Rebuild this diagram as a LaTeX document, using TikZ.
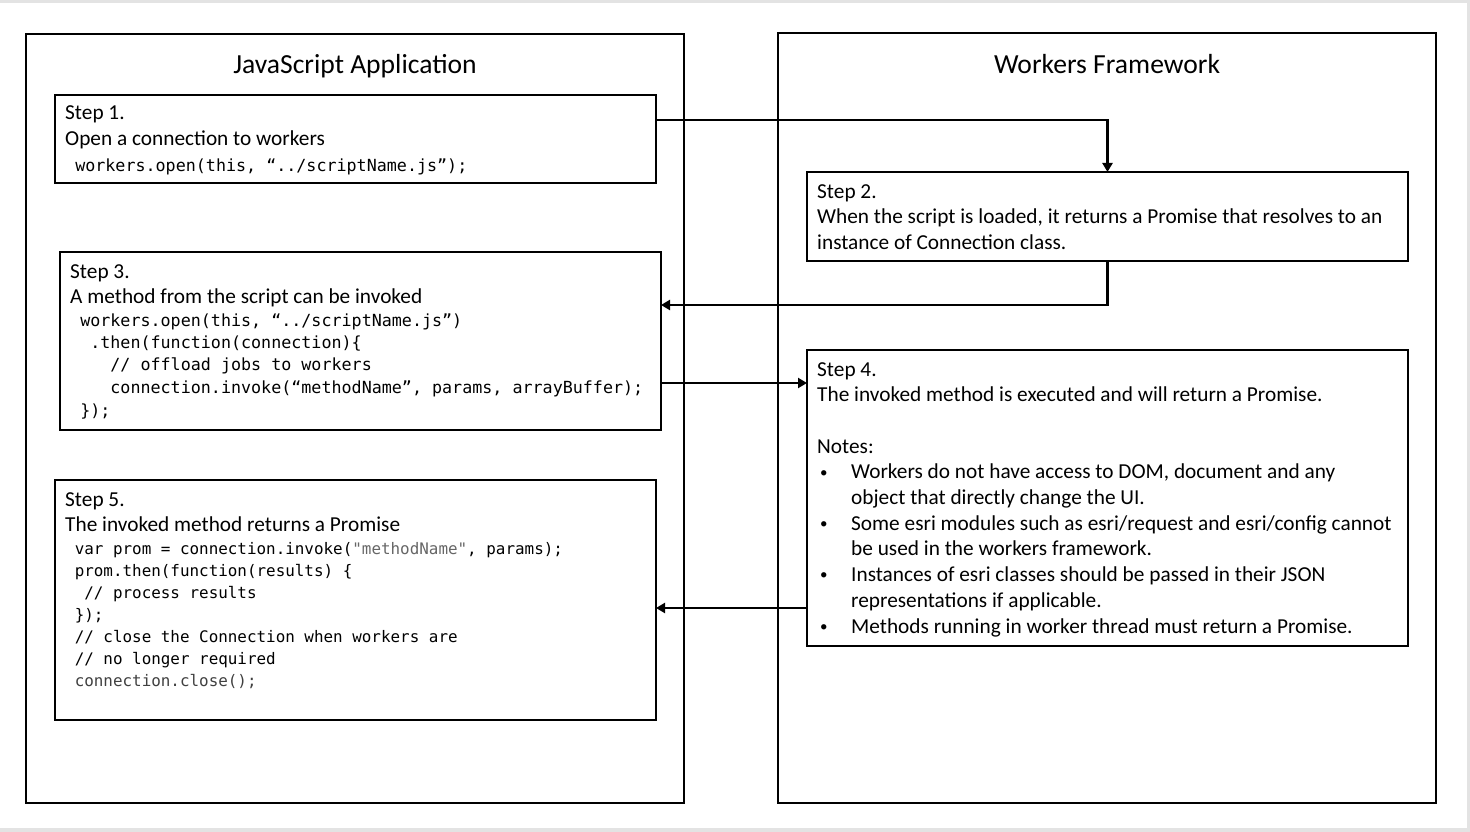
\documentclass[tikz,border=0pt]{standalone}
\usepackage{fontspec}
\setmainfont{Carlito}
\setmonofont{DejaVu Sans Mono}
\usetikzlibrary{positioning,arrows.meta,calc}
\newcommand{\ind}[1]{\hspace*{#1\fontcharwd\font`x}}
\newcommand{\natsp}{\spaceskip=0pt\xspaceskip=0pt\frenchspacing}
\newcommand{\blt}{\makebox[34pt][l]{\hspace{3pt}\raisebox{1.8pt}{\fontsize{15}{15}\selectfont •}}}

\begin{document}
\begin{tikzpicture}[x=1pt,y=-1pt,
    frame/.style={draw,line width=2.6pt,anchor=north west,inner sep=0,outer sep=0},
    stepbox/.style={draw,line width=1.3pt,anchor=north west,inner sep=0,outer sep=0},
    title/.style={anchor=base,inner sep=0,font=\fontsize{27.6}{32}\selectfont},
    prose/.style={anchor=base west,inner sep=0,text width=640pt,align=left,
        font=\fontsize{21.3}{25.7}\selectfont,execute at begin node=\natsp},
    code/.style={anchor=base west,inner sep=0,text width=640pt,align=left,
        font=\ttfamily\fontsize{16.7}{22.2}\selectfont,execute at begin node=\natsp},
    conn/.style={line width=2.6pt,-{Triangle[width=10pt,length=9pt]}}]
    \useasboundingbox (0,0) rectangle (1470,832);
    % screenshot edge
    \fill[gray!22] (0,0) rectangle (1470,3);
    \fill[gray!22] (1467,0) rectangle (1470,832);
    \fill[gray!22] (0,828) rectangle (1470,832);

    % === JAVASCRIPT APPLICATION ===
    \node[frame,minimum width=658pt,minimum height=769pt] (app) at (26,34) {};
    \node[title] (tapp) at (355,74) {JavaScript Application};

    \node[stepbox,minimum width=601pt,minimum height=88pt] (s1) at (55,95) {};
    \node[prose] (s1t) at (65,120) {Step 1.\\Open a connection to workers};
    \node[code] (s1c) at (65,171.5) {\ind{1}workers.open(this, “../scriptName.js”);};

    \node[stepbox,minimum width=601pt,minimum height=178pt] (s3) at (60,252) {};
    \node[prose] (s3t) at (70,278) {Step 3.\\A method from the script can be invoked};
    \node[code] (s3c) at (70,326) {\ind{1}workers.open(this, “../scriptName.js”)\\
        \ind{2}.then(function(connection)\{\\
        \ind{4}// offload jobs to workers\\[0.6pt]
        \ind{4}connection.invoke(“methodName”, params, arrayBuffer);\\[0.6pt]
        \ind{1}\});};

    \node[stepbox,minimum width=601pt,minimum height=240pt] (s5) at (55,480) {};
    \node[prose] (s5t) at (65,506) {Step 5.\\The invoked method returns a Promise};
    \node[code,font=\ttfamily\fontsize{15.9}{22}\selectfont] (s5c) at (65,554) {\ind{1}var prom = connection.invoke(\textcolor{black!60}{"methodName"}, params);\\
        \ind{1}prom.then(function(results) \{\\
        \ind{2}// process results\\
        \ind{1}\});\\
        \ind{1}// close the Connection when workers are\\
        \ind{1}// no longer required\\
        \ind{1}\textcolor{black!75}{connection.close();}};

    % === WORKERS FRAMEWORK ===
    \node[frame,minimum width=658pt,minimum height=770pt] (fw) at (778,33) {};
    \node[title] (tfw) at (1107,74) {Workers Framework};

    \node[stepbox,minimum width=601pt,minimum height=89pt] (s2) at (807,172) {};
    \node[prose] (s2t) at (817,198) {Step 2.\\When the script is loaded, it returns a Promise that resolves to an\\instance of Connection class.};

    \node[stepbox,minimum width=601pt,minimum height=296pt] (s4) at (807,350) {};
    \node[prose] (s4t) at (817,376) {Step 4.\\The invoked method is executed and will return a Promise.\\[25.7pt]
        Notes:\\
        \blt Workers do not have access to DOM, document and any\\
        \hspace*{34pt}object that directly change the UI.\\
        \blt Some esri modules such as esri/request and esri/config cannot\\
        \hspace*{34pt}be used in the workers framework.\\
        \blt Instances of esri classes should be passed in their JSON\\
        \hspace*{34pt}representations if applicable.\\
        \blt Methods running in worker thread must return a Promise.};

    % Flèches
    \coordinate (a1) at ([yshift=-25pt]s1.north east);
    \coordinate (a2) at ([yshift=36pt]s3.east);
    \coordinate (a3) at ([yshift=-42pt]s3.east);
    \coordinate (a4) at ([yshift=-110pt]s4.west);
    \draw[conn] (a1) -| (s2.north);
    \draw[conn] (s2.south) |- (a2);
    \draw[conn] (a3) -- (a3 -| s4.west);
    \draw[conn] (a4) -- (a4 -| s5.east);
\end{tikzpicture}
\end{document}
